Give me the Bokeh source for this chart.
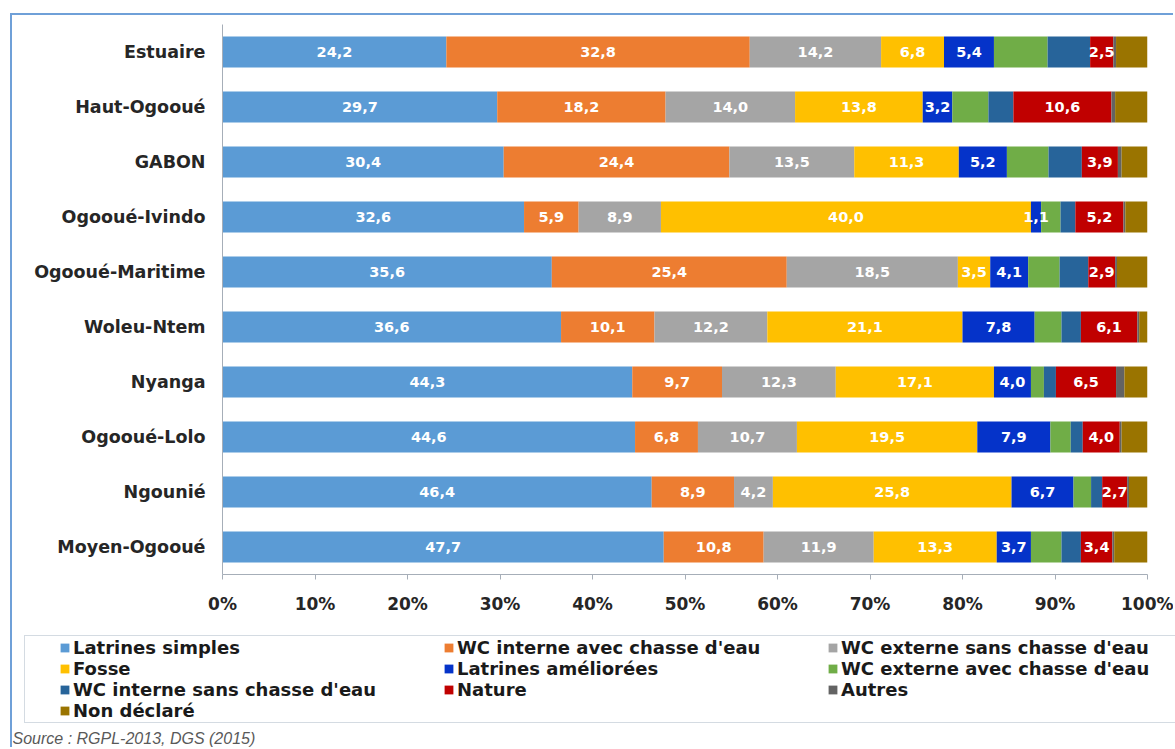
from bokeh.plotting import figure
from bokeh.layouts import column
from bokeh.models import (ColumnDataSource, FactorRange, Range1d, FixedTicker, PrintfTickFormatter,
                          Legend, LegendItem, Label)
from bokeh.core.properties import value
from bokeh.embed import file_html
from bokeh.resources import INLINE

# ---------------- data ----------------
regions = ["Estuaire", "Haut-Ogooué", "GABON", "Ogooué-Ivindo", "Ogooué-Maritime",
           "Woleu-Ntem", "Nyanga", "Ogooué-Lolo", "Ngounié", "Moyen-Ogooué"]

series_names = ["Latrines simples", "WC interne avec chasse d'eau", "WC externe sans chasse d'eau",
                "Fosse", "Latrines améliorées", "WC externe avec chasse d'eau",
                "WC interne sans chasse d'eau", "Nature", "Autres", "Non déclaré"]

latrines_simples = [24.2, 29.7, 30.4, 32.6, 35.6, 36.6, 44.3, 44.6, 46.4, 47.7]
wc_interne_avec = [32.8, 18.2, 24.4, 5.9, 25.4, 10.1, 9.7, 6.8, 8.9, 10.8]
wc_externe_sans = [14.2, 14.0, 13.5, 8.9, 18.5, 12.2, 12.3, 10.7, 4.2, 11.9]
fosse = [6.8, 13.8, 11.3, 40.0, 3.5, 21.1, 17.1, 19.5, 25.8, 13.3]
latrines_ameliorees = [5.4, 3.2, 5.2, 1.1, 4.1, 7.8, 4.0, 7.9, 6.7, 3.7]
wc_externe_avec = [5.8, 3.9, 4.5, 2.1, 3.4, 2.9, 1.4, 2.2, 1.9, 3.3]
wc_interne_sans = [4.6, 2.7, 3.6, 1.6, 3.1, 2.1, 1.3, 1.3, 1.2, 2.1]
nature = [2.5, 10.6, 3.9, 5.2, 2.9, 6.1, 6.5, 4.0, 2.7, 3.4]
autres = [0.3, 0.4, 0.4, 0.2, 0.2, 0.2, 0.9, 0.2, 0.2, 0.2]
non_declare = [3.4, 3.5, 2.8, 2.4, 3.3, 0.9, 2.5, 2.8, 2.0, 3.6]

colors = ["#5B9BD5", "#ED7D31", "#A5A5A5", "#FFC000", "#0533C9",
          "#70AD47", "#27649A", "#C00000", "#636363", "#9A7400"]
labeled = [True, True, True, True, True, False, False, True, False, False]

source_text = "Source : RGPL-2013, DGS (2015)"
tick_values = [0, 10, 20, 30, 40, 50, 60, 70, 80, 90, 100]

# ---------------- build ----------------
series_values = [latrines_simples, wc_interne_avec, wc_externe_sans, fosse, latrines_ameliorees,
                 wc_externe_avec, wc_interne_sans, nature, autres, non_declare]
keys = ["s%d" % i for i in range(len(series_names))]

data = {"region": regions}
for k, vals in zip(keys, series_values):
    data[k] = vals
src = ColumnDataSource(data)

lx, ly, lt = [], [], []
for ri, reg in enumerate(regions):
    cum = 0.0
    for si, vals in enumerate(series_values):
        v = vals[ri]
        if labeled[si]:
            lx.append(cum + v / 2.0)
            ly.append(reg)
            lt.append(("%.1f" % v).replace(".", ","))
        cum += v
lab_src = ColumnDataSource(dict(x=lx, y=ly, text=lt))

border_col = "#6FA0D8"

# main chart: canvas starts at page (12, 15), inside the blue border
p = figure(width=1163, height=615,
           y_range=FactorRange(factors=list(reversed(regions))),
           x_range=Range1d(0, 100),
           output_backend="svg", toolbar_location=None, title=None,
           min_border_left=210, min_border_right=28, min_border_top=9, min_border_bottom=56,
           margin=(13, 0, 0, 10),
           styles={"border-top": "2px solid " + border_col, "border-left": "2px solid " + border_col})
p.frame_align = False

rends = p.hbar_stack(keys, y="region", height=0.56, fill_color=colors, line_color=None, source=src)

p.text(x="x", y="y", text="text", source=lab_src,
       text_font=value("DejaVu Sans"), text_font_style="bold", text_font_size="14.5px",
       text_color="white", text_align="center", text_baseline="middle")

axis_col = "#A6AEB8"
p.xaxis.ticker = FixedTicker(ticks=tick_values)
p.xaxis.formatter = PrintfTickFormatter(format="%d%%")
p.xaxis.minor_tick_line_color = None
p.xaxis.major_tick_in = 0
p.xaxis.major_tick_out = 5
p.xaxis.major_tick_line_color = axis_col
p.xaxis.axis_line_color = axis_col
p.xaxis.major_label_standoff = 14
p.xaxis.major_label_text_font = "DejaVu Sans"
p.xaxis.major_label_text_font_style = "bold"
p.xaxis.major_label_text_font_size = "17px"
p.xaxis.major_label_text_color = "#262626"

p.yaxis.major_tick_line_color = None
p.yaxis.minor_tick_line_color = None
p.yaxis.axis_line_color = axis_col
p.yaxis.major_tick_out = 0
p.yaxis.major_tick_in = 0
p.yaxis.major_label_standoff = 17
p.yaxis.major_label_text_font = "DejaVu Sans"
p.yaxis.major_label_text_font_style = "bold"
p.yaxis.major_label_text_font_size = "17.5px"
p.yaxis.major_label_text_color = "#262626"

p.grid.visible = False
p.outline_line_color = None

# legend + source panel: canvas starts at page (12, 630)
p2 = figure(width=1163, height=119, x_range=Range1d(0, 1), y_range=Range1d(0, 1),
            x_axis_type=None, y_axis_type=None,
            output_backend="svg", toolbar_location=None, title=None,
            min_border_left=0, min_border_right=0, min_border_top=0, min_border_bottom=0,
            margin=(0, 0, 0, 10),
            styles={"border-left": "2px solid " + border_col})
p2.frame_align = False
p2.outline_line_color = None
p2.grid.visible = False

# legend keys only: placed outside the visible range so only their legend swatches show
swatches = [p2.hbar(y=[-5], left=[0], right=[1], height=0.5, fill_color=c, line_color=None)
            for c in colors]
items = [LegendItem(label=n, renderers=[r]) for n, r in zip(series_names, swatches)]
legend = Legend(items=items, location=(12, 24), orientation="horizontal", ncols=3,
                title=" ", title_location="left", title_text_font_size="18px", title_standoff=12,
                glyph_width=11, glyph_height=11, label_standoff=3, label_width=370,
                label_height=18, spacing=0, padding=1, margin=0,
                border_line_color="#A9B7C6", border_line_width=1.5, background_fill_alpha=0,
                label_text_font="DejaVu Sans", label_text_font_style="bold",
                label_text_font_size="18px", label_text_color="#1a1a1a")
p2.add_layout(legend)

src_label = Label(x=0, y=9, x_units="screen", y_units="screen", text=source_text,
                  text_font="Liberation Sans", text_font_style="italic", text_font_size="16px",
                  text_color="#595959", text_baseline="middle")
p2.add_layout(src_label)

lay = column(p, p2, spacing=0)
open("out.html", "w").write(file_html(lay, INLINE))
